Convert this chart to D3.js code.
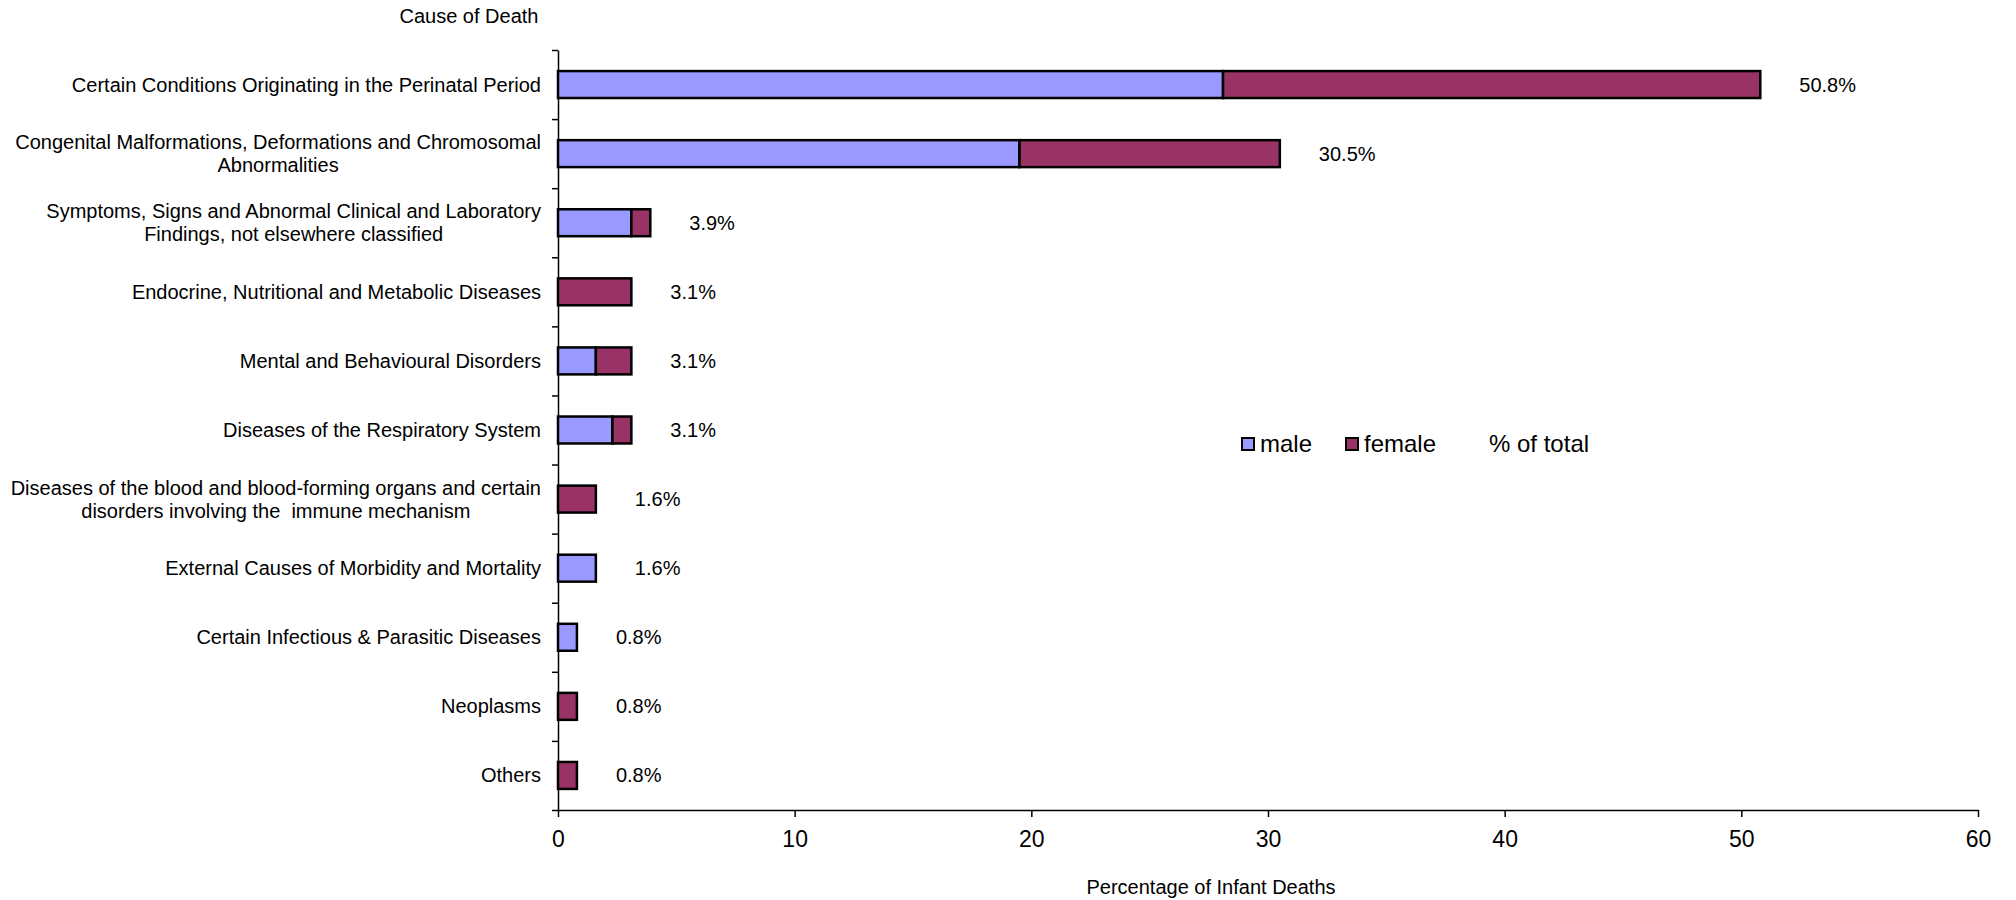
<!doctype html>
<html lang="en">
  <head>
    <meta charset="utf-8">
    <title>Infant deaths by cause</title>
    <script src="https://d3js.org/d3.v7.min.js"></script>
    <style>
      body { margin: 0; background: #fff; }
      text { font-family: "Liberation Sans", Arial, sans-serif; fill: #000; }
      tspan { white-space: pre; }
    </style>
  </head>
  <body>
    <div id="container"></div>
  <script>
    // Data (percent of all infant deaths)
    const categories = [
      ["Certain Conditions Originating in the Perinatal Period"],
      ["Congenital Malformations, Deformations and Chromosomal", "Abnormalities"],
      ["Symptoms, Signs and Abnormal Clinical and Laboratory", "Findings, not elsewhere classified"],
      ["Endocrine, Nutritional and Metabolic Diseases"],
      ["Mental and Behavioural Disorders"],
      ["Diseases of the Respiratory System"],
      ["Diseases of the blood and blood-forming organs and certain", "disorders involving the  immune mechanism"],
      ["External Causes of Morbidity and Mortality"],
      ["Certain Infectious & Parasitic Diseases"],
      ["Neoplasms"],
      ["Others"]
    ]
    const male   = [28.1, 19.5, 3.1, 0,   1.6, 2.3, 0,   1.6, 0.8, 0,   0]
    const female = [22.7, 11.0, 0.8, 3.1, 1.5, 0.8, 1.6, 0,   0,   0.8, 0.8]
    const pctOfTotal = [50.8, 30.5, 3.9, 3.1, 3.1, 3.1, 1.6, 1.6, 0.8, 0.8, 0.8]
    const xTicks = [0, 10, 20, 30, 40, 50, 60]

    const width = 2016
    const height = 900
    const maleColor = "#9999ff"
    const femaleColor = "#993366"

    const svg = d3.select("#container")
      .append("svg")
        .attr("width", width)
        .attr("height", height)

    const x = d3.scaleLinear().domain([0, 60]).range([558, 1978])
    const ids = categories.map((c, i) => i)
    const y = d3.scaleBand().domain(ids).range([50, 810])
      .paddingInner(0.61).paddingOuter(0.305)
    // boundaries between categories, for the y axis ticks
    const yEdge = d3.scaleLinear().domain([0, categories.length]).range([50, 810])

    // y axis (ticks between categories)
    svg.append("g")
      .attr("transform", "translate(558,0)")
      .call(d3.axisLeft(yEdge).ticks(categories.length).tickFormat("").tickSizeInner(6).tickSizeOuter(0))
      .call(g => g.selectAll("line, path").attr("stroke", "#000").attr("stroke-width", 1.5))

    // x axis
    const xAxis = svg.append("g")
      .attr("transform", "translate(0,810)")
      .call(d3.axisBottom(x).tickValues(xTicks).tickSizeInner(7).tickSizeOuter(0).tickPadding(14))
    xAxis.selectAll("line, path").attr("stroke", "#000").attr("stroke-width", 1.5)
    xAxis.selectAll("text").attr("font-size", 23).attr("font-family", "Liberation Sans, Arial, sans-serif")

    // stacked bars
    const bars = svg.append("g")
    ids.forEach(i => {
      if (male[i] > 0) {
        bars.append("rect")
          .attr("x", x(0)).attr("y", y(i))
          .attr("width", x(male[i]) - x(0)).attr("height", y.bandwidth())
          .attr("fill", maleColor).attr("stroke", "#000").attr("stroke-width", 2.5)
      }
      if (female[i] > 0) {
        bars.append("rect")
          .attr("x", x(male[i])).attr("y", y(i))
          .attr("width", x(male[i] + female[i]) - x(male[i])).attr("height", y.bandwidth())
          .attr("fill", femaleColor).attr("stroke", "#000").attr("stroke-width", 2.5)
      }
      // % of total label
      svg.append("text")
        .attr("x", x(pctOfTotal[i]) + 39)
        .attr("y", y(i) + y.bandwidth() / 2)
        .attr("dy", "0.35em")
        .attr("font-size", 20)
        .text(pctOfTotal[i].toFixed(1) + "%")
    })

    // category labels: right aligned block, lines centred on each other
    const lineH = 23
    categories.forEach((lines, i) => {
      const g = svg.append("g")
      const t = g.append("text").attr("font-size", 20).attr("text-anchor", "middle")
      lines.forEach((ln, k) => {
        t.append("tspan").attr("x", 0)
          .attr("y", y(i) + y.bandwidth() / 2 + (k - (lines.length - 1) / 2) * lineH)
          .attr("dy", "0.35em")
          .text(ln)
      })
      const w = t.node().getBBox().width
      g.attr("transform", `translate(${541 - w / 2},0)`)
    })

    // axis titles
    svg.append("text").attr("x", 469).attr("y", 16).attr("dy", "0.35em")
      .attr("text-anchor", "middle").attr("font-size", 20).text("Cause of Death")
    svg.append("text").attr("x", 1211).attr("y", 887).attr("dy", "0.35em")
      .attr("text-anchor", "middle").attr("font-size", 20).text("Percentage of Infant Deaths")

    // legend
    const legend = svg.append("g").attr("transform", "translate(0,444)")
    const legendItems = [
      {label: "male", fill: maleColor, x: 1242},
      {label: "female", fill: femaleColor, x: 1346},
      {label: "% of total", fill: null, x: 1471}
    ]
    legendItems.forEach(d => {
      if (d.fill) {
        legend.append("rect").attr("x", d.x).attr("y", -6).attr("width", 12).attr("height", 12)
          .attr("fill", d.fill).attr("stroke", "#000").attr("stroke-width", 2)
      }
      legend.append("text").attr("x", d.x + 18).attr("dy", "0.35em")
        .attr("font-size", 24).text(d.label)
    })
  </script>
  </body>
</html>
